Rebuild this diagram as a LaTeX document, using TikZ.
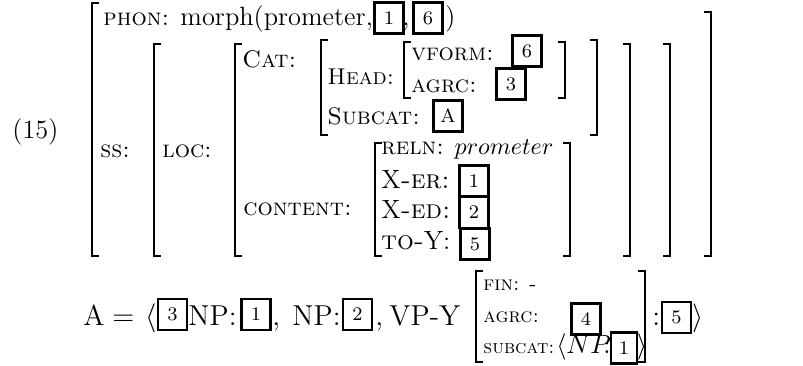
\documentclass[tikz,border=0pt]{standalone}
\begin{document}
\begin{tikzpicture}[x=0.41667pt,y=-0.41667pt,
  lbl/.style={anchor=base west, inner sep=0pt, font=\fontsize{10}{12}\selectfont},
  sml/.style={anchor=base west, inner sep=0pt, font=\fontsize{8.5}{10}\selectfont},
  rom/.style={anchor=base west, inner sep=0pt, font=\fontsize{11}{13}\selectfont},
  big/.style={anchor=base west, inner sep=0pt, font=\fontsize{12}{14}\selectfont},
  tag/.style={draw, line width=1pt, inner sep=0pt, minimum width=12pt, minimum height=12.8pt, font=\footnotesize},
  brk/.style={line width=1pt}]
\useasboundingbox (0,0) rectangle (803,365);
% label
\node[rom] (num) at (12,138) {(15)};
% outer
\draw[brk] (99,3) -| (92,256) -- (99,256);
\draw[brk] (704,12) -| (711,256) -- (704,256);
\node[lbl] (phon) at (103,25) {\textsc{phon:}};
\node[rom] (morph) at (180,25) {morph(prometer,};
\node[tag] (p1) at (389,18) {1};
\node[rom] (pc) at (402,25) {,};
\node[tag] (p6) at (428,18) {6};
\node[rom] (pr) at (445,25) {)};
% ss
\node[lbl] (ss) at (100,157) {\textsc{ss:}};
\draw[brk] (161,44) -| (154,256) -- (161,256);
\draw[brk] (663,44) -| (670,256) -- (663,256);
% loc
\node[lbl] (loc) at (162,157) {\textsc{loc:}};
\draw[brk] (242,44) -| (235,256) -- (242,256);
\draw[brk] (623,44) -| (630,256) -- (623,256);
% cat
\node[lbl] (cat) at (242,67) {\textsc{Cat:}};
\draw[brk] (328,40) -| (321,135) -- (328,135);
\draw[brk] (590,40) -| (597,135) -- (590,135);
\node[lbl, font=\fontsize{9.5}{11}\selectfont] (head) at (327,84) {\textsc{Head:}};
\draw[brk] (411,42) -| (404,98) -- (411,98);
\draw[brk] (558,42) -| (565,98) -- (558,98);
\node[lbl] (vform) at (411,60) {\textsc{vform:}};
\node[tag] (v6) at (527,51) {6};
\node[lbl] (agrc) at (411,92) {\textsc{agrc:}};
\node[tag] (a3) at (511,84) {3};
\node[lbl] (subcat) at (327,124) {\textsc{Subcat:}};
\node[tag] (sA) at (448,116) {A};
% content
\node[lbl] (content) at (243,215) {\textsc{content:}};
\draw[brk] (382,143) -| (375,256) -- (382,256);
\draw[brk] (563,143) -| (570,256) -- (563,256);
\node[lbl] (reln) at (381,154) {\textsc{reln:} $prometer$};
\node[rom] (xer) at (381,188) {X\textsc{-er:}};
\node[tag] (c1) at (474,181) {1};
\node[rom] (xed) at (381,218) {X\textsc{-ed:}};
\node[tag] (c2) at (474,212.5) {2};
\node[rom] (toy) at (381,249) {\textsc{to-}Y:};
\node[tag] (c5) at (475,244) {5};
% bottom line
\node[big] (bA) at (83,325) {A};
\node[big] (beq) at (112,325) {$=$};
\node[big] (bla) at (145,325) {$\langle$};
\node[tag] (b3) at (172.5,314.5) {3};
\node[big] (np1) at (188,325) {NP:};
\node[tag] (b1) at (256,314.5) {1};
\node[big] (cm1) at (272,325) {,};
\node[big] (np2) at (292,325) {NP:};
\node[tag] (b2) at (357.5,314.5) {2};
\node[big] (cm2) at (375,325) {,};
\node[big] (vpy) at (389,325) {VP-Y};
\draw[brk] (483,271) -| (476,362) -- (483,362);
\draw[brk] (638,271) -| (645,362) -- (638,362);
\node[sml] (fin) at (483,290) {\textsc{fin:}};
\node[sml] (fdash) at (529,290) {-};
\node[sml] (agrc2) at (483,322) {\textsc{agrc:}};
\node[tag] (b4) at (586,319) {4};
\node[sml, font=\fontsize{8}{10}\selectfont] (sub2) at (483,353) {\textsc{subcat:}};
\node[rom] (sla) at (556,353) {$\langle$};
\node[rom, font=\fontsize{10.5}{12}\selectfont] (snp) at (566,353) {$NP$};
\node[rom] (scol) at (603,353) {$:$};
\node[tag, minimum width=11pt] (s1) at (624,348) {1};
\node[rom] (sra) at (636.5,353) {$\rangle$};
\node[big] (bcol) at (652,325) {:};
\node[tag] (b5) at (676.5,317.5) {5};
\node[big] (bra) at (692,325) {$\rangle$};
\end{tikzpicture}
\end{document}
